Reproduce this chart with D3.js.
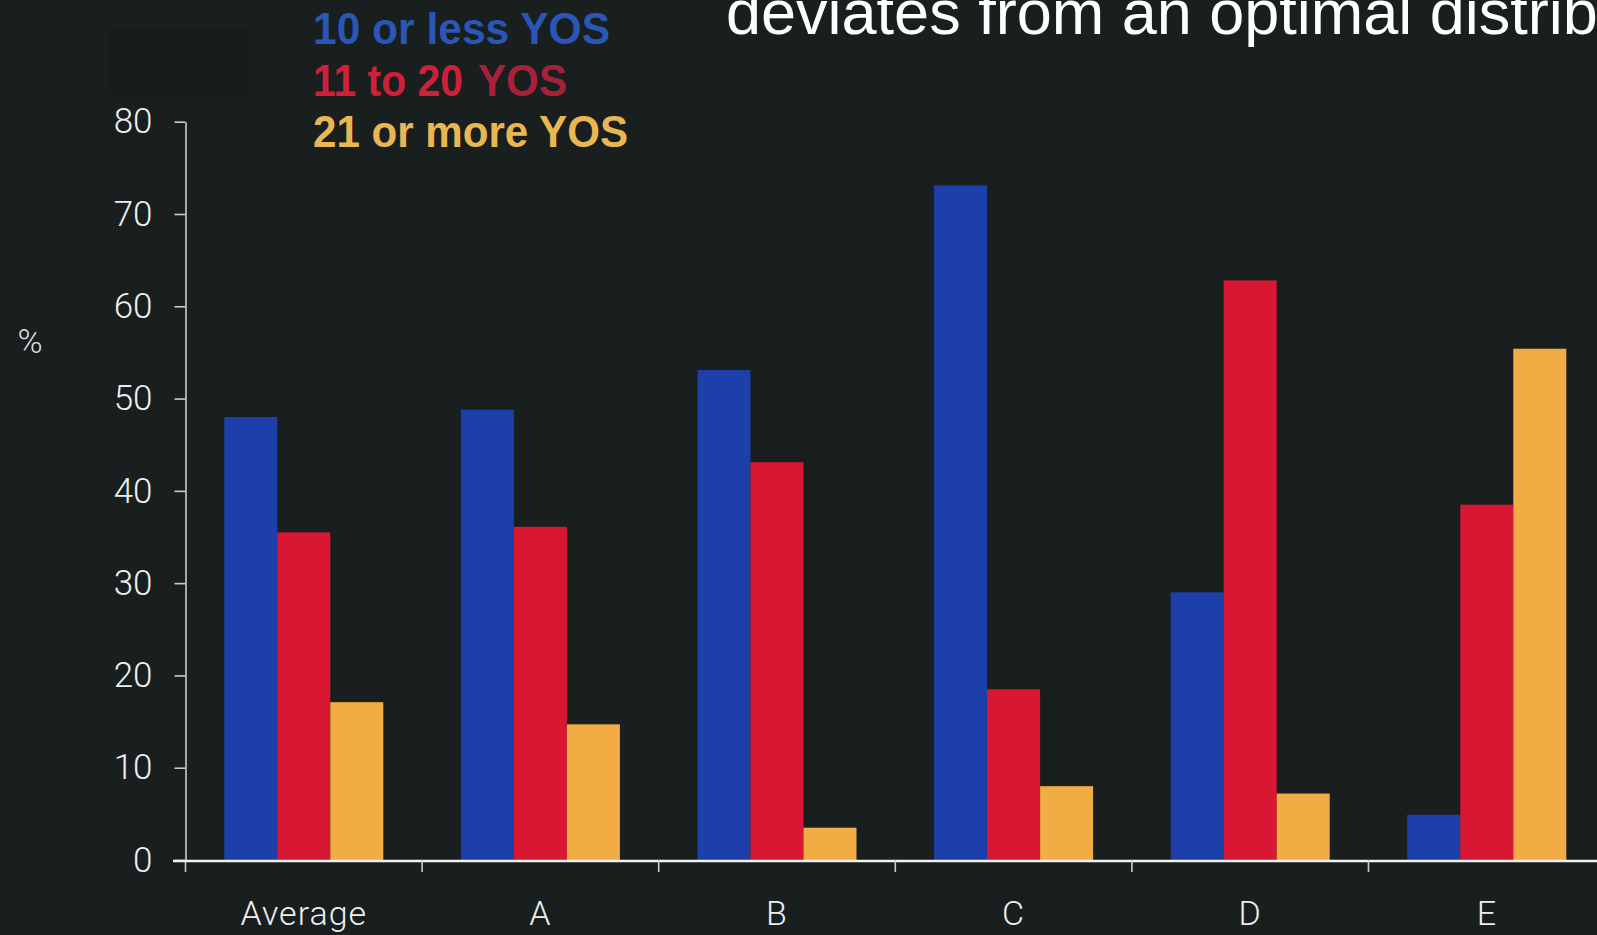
<!DOCTYPE html>
<html>
<head>
<meta charset="utf-8">
<script src="https://cdn.jsdelivr.net/npm/d3@7/dist/d3.min.js"></script>
<style>
  html, body { margin: 0; padding: 0; background: #191f1f; overflow: hidden; }
  svg { display: block; }
</style>
</head>
<body>
<svg id="chart" width="1597" height="935"></svg>
<script>
// Share of staff by years of service (YOS), per unit
const categories = ["Average", "A", "B", "C", "D", "E"];
const seriesNames = ["10 or less YOS", "11 to 20 YOS", "21 or more YOS"];
const lessThan10 = [48.0, 48.8, 53.1, 73.1, 29.0, 4.9];
const from11to20 = [35.5, 36.1, 43.1, 18.5, 62.8, 38.5];
const over21 = [17.1, 14.7, 3.5, 8.0, 7.2, 55.4];
const yTicks = [0, 10, 20, 30, 40, 50, 60, 70, 80];
const seriesColors = ["#1c3faa", "#da1733", "#f1ad43"];
const legendColors = ["#2a56b6", "#cf2039", "#e8b752"];

const series = [lessThan10, from11to20, over21];

const svg = d3.select("#chart");
const W = 1597, H = 935;

svg.append("rect").attr("width", W).attr("height", H).attr("fill", "#191f1f");
// faint darker patch behind the top-left corner
svg.append("rect").attr("x", 107).attr("y", 28).attr("width", 143).attr("height", 67)
  .attr("fill", "#171c1c");

const x0 = 185.5, yBase = 860, yTop = 121.7;
const step = 236.6;

const x = d3.scaleBand().domain(categories).range([x0, x0 + step * categories.length]).padding(0);
const xi = d3.scaleBand().domain(d3.range(series.length)).range([0, x.bandwidth()])
  .paddingInner(0).paddingOuter(0.732);
const y = d3.scaleLinear().domain([0, 80]).range([yBase, yTop]);

// bars
categories.forEach((c, ci) => {
  const g = svg.append("g").attr("transform", `translate(${x(c)},0)`);
  g.selectAll("rect")
    .data(series.map((s, si) => ({ si, v: s[ci] })))
    .join("rect")
    .attr("x", d => xi(d.si))
    .attr("y", d => y(d.v))
    .attr("width", xi.bandwidth())
    .attr("height", d => y(0) - y(d.v))
    .attr("fill", d => seriesColors[d.si]);
});

// y axis
const yAxis = svg.append("g")
  .attr("transform", `translate(${x0},0)`)
  .call(d3.axisLeft(y).tickValues(yTicks).tickSize(11).tickPadding(22).tickSizeOuter(0));
yAxis.select(".domain").attr("stroke", "#c9cccc").attr("stroke-width", 1.6);
yAxis.selectAll(".tick line").attr("stroke", "#c9cccc").attr("stroke-width", 1.6);
yAxis.selectAll(".tick text")
  .attr("fill", "#eeeeee")
  .style("font-family", "Roboto, 'Liberation Sans', sans-serif")
  .style("font-weight", 300)
  .style("font-size", "35px");

// y axis continues slightly below the baseline
svg.append("line")
  .attr("x1", x0).attr("x2", x0).attr("y1", yBase).attr("y2", yBase + 12)
  .attr("stroke", "#c9cccc").attr("stroke-width", 1.6);

// x axis baseline
svg.append("line")
  .attr("x1", 173).attr("x2", W).attr("y1", yBase + 1).attr("y2", yBase + 1)
  .attr("stroke", "#f2f2f2").attr("stroke-width", 2.4);

// group boundary ticks
svg.selectAll(".bound")
  .data(categories.slice(1))
  .join("line")
  .attr("class", "bound")
  .attr("x1", d => x(d)).attr("x2", d => x(d))
  .attr("y1", yBase).attr("y2", yBase + 12)
  .attr("stroke", "#c9cccc").attr("stroke-width", 1.6);

// category labels
const xAxis = svg.append("g")
  .attr("transform", `translate(0,${yBase})`)
  .call(d3.axisBottom(x).tickSize(0).tickPadding(0));
xAxis.select(".domain").remove();
xAxis.selectAll(".tick text")
  .attr("y", 65).attr("dy", 0)
  .attr("fill", "#eeeeee")
  .style("font-family", "Roboto, 'Liberation Sans', sans-serif")
  .style("font-weight", 300)
  .style("font-size", "34px")
  .style("letter-spacing", "1px");

// axis unit
svg.append("text")
  .attr("x", 30).attr("y", 353)
  .attr("text-anchor", "middle")
  .attr("fill", "#dddddd")
  .style("font-family", "Roboto, 'Liberation Sans', sans-serif")
  .style("font-weight", 300)
  .style("font-size", "34px")
  .text("%");

// legend: each entry is a list of text pieces with their own span and colour
const legendParts = [
  [{ text: seriesNames[0], x: 313, len: 297, color: legendColors[0] }],
  [{ text: "11 to 20", x: 313, len: 150, color: legendColors[1] },
   { text: "YOS", x: 478, len: 89, color: "#a8213a" }],
  [{ text: seriesNames[2], x: 313, len: 315, color: legendColors[2] }]
];
const legendY = [44.3, 96, 146.7];
legendParts.forEach((parts, i) => {
  parts.forEach(p => {
    svg.append("text")
      .attr("x", p.x).attr("y", legendY[i])
      .attr("fill", p.color)
      .attr("textLength", p.len)
      .attr("lengthAdjust", "spacingAndGlyphs")
      .style("font-family", "'Liberation Sans', Arial, sans-serif")
      .style("font-weight", "bold")
      .style("font-size", "45px")
      .text(p.text);
  });
});

// headline (runs off the right edge)
svg.append("text")
  .attr("x", 726).attr("y", 34)
  .attr("fill", "#ffffff")
  .style("font-family", "'Liberation Sans', Arial, sans-serif")
  .style("font-size", "63px")
  .text("deviates from an optimal distribution");
</script>
</body>
</html>
